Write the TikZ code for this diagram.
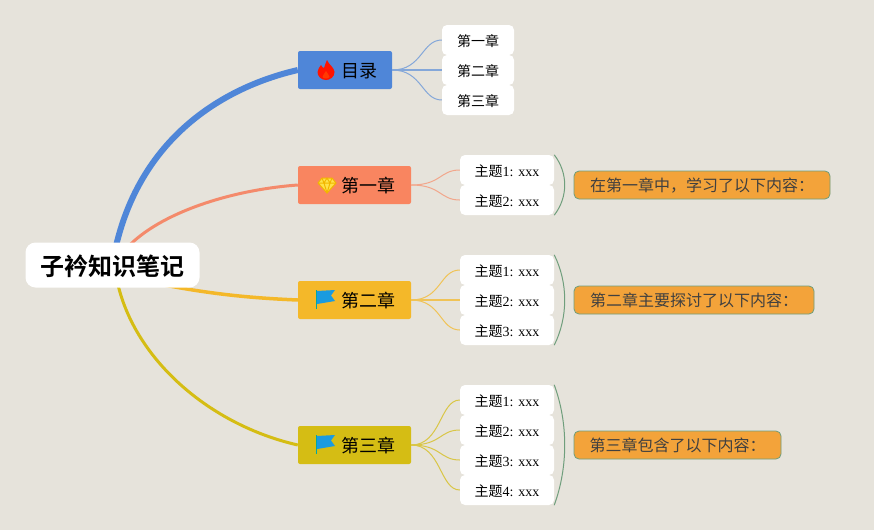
\documentclass[tikz,border=0pt]{standalone}
\usepackage{fontspec}
\setmainfont{Liberation Serif}
\newfontfamily\cjk{Noto Sans CJK SC}
\newfontfamily\cjkb{Noto Sans CJK SC Bold}
\pgfdeclarelayer{branch}
\pgfsetlayers{branch,main}
\definecolor{bgc}{HTML}{E6E3DB}
\definecolor{cblue}{HTML}{4F86D8}
\definecolor{csal}{HTML}{F98560}
\definecolor{csalb}{HTML}{F48A6B}
\definecolor{cgold}{HTML}{F4B829}
\definecolor{cyel}{HTML}{D5BD14}
\definecolor{sumo}{HTML}{F3A33A}
\definecolor{sumb}{HTML}{6F9E7C}
\definecolor{flagb}{HTML}{1A9BE0}
\definecolor{gemf}{HTML}{FFE14A}
\definecolor{geml}{HTML}{F2B600}
\tikzset{
  rootbox/.style={fill=white,rounded corners=10pt,minimum width=174pt,minimum height=45pt,inner sep=0pt,text height=22pt,text depth=2pt,font=\cjkb\fontsize{24}{24}\selectfont},
  chapbox/.style={rounded corners=2pt,minimum height=38pt,inner sep=0pt,text height=17pt,text depth=1.3pt,font=\cjk\fontsize{18}{18}\selectfont,text=black},
  leafbox/.style={fill=white,rounded corners=5pt,minimum height=30pt,inner sep=0pt,text height=13.5pt,text depth=1.5pt,font=\fontsize{14}{14}\selectfont,text=black},
  sumbox/.style={fill=sumo,draw=sumb,line width=.8pt,rounded corners=5pt,minimum height=28pt,inner sep=0pt,text height=14.5pt,text depth=1.5pt,font=\cjk\fontsize{16}{16}\selectfont,text=black!75},
  link/.style={line width=1pt},
  brace/.style={draw=sumb,line width=1pt},
  flameicon/.pic={
    \fill[red!85!orange] (1,-10) .. controls (3,-5) and (8,-3) .. (8.5,2) .. controls (8.5,7) and (4,10) .. (0,10) .. controls (-5,10) and (-8.5,6) .. (-8.5,2) .. controls (-8.5,-1) and (-6,-3) .. (-5,-5) .. controls (-4,-3) and (-3,-2) .. (-2,-2) .. controls (-1,-5) and (0,-8) .. (1,-10) -- cycle;
    \fill[orange!45!red] (0,1) .. controls (1,4) and (4,5) .. (3.5,7) .. controls (3,9) and (-3,9) .. (-3.5,7) .. controls (-4,5) and (-1,4) .. (0,1) -- cycle;
  },
  gemicon/.pic={
    \fill[gemf,draw=geml,line width=1pt,line join=round] (-5,-7) -- (5,-7) -- (9,-2) -- (0,8) -- (-9,-2) -- cycle;
    \draw[geml,line width=1pt,line join=round] (-9,-2) -- (9,-2) (-3,-2) -- (0,8) -- (3,-2) (-5,-7) -- (-3,-2) -- (0,-7) -- (3,-2) -- (5,-7);
  },
  flagicon/.pic={
    \fill[teal!70!cyan] (-9.7,-9) rectangle (-8.7,10);
    \fill[flagb] (-9,-8) -- (9,-9) -- (5,-3.5) -- (9,2) -- (-9,5) -- cycle;
  }
}
\begin{document}
\begin{tikzpicture}[x=1pt,y=-1pt]
\useasboundingbox (0,0) rectangle (874,530);
\begin{pgfonlayer}{branch}
\fill[bgc] (0,0) rectangle (874,530);
\end{pgfonlayer}

\node[rootbox] (root) at (112.5,265) {子衿知识笔记};
\node[chapbox,minimum width=94pt,fill=cblue] (c0) at (345,70) {\hspace*{23pt}目录\hspace*{-5pt}};
\node[chapbox,minimum width=113pt,fill=csal] (c1) at (354.5,185) {\hspace*{23pt}第一章\hspace*{-5pt}};
\node[chapbox,minimum width=113pt,fill=cgold] (c2) at (354.5,300) {\hspace*{23pt}第二章\hspace*{-5pt}};
\node[chapbox,minimum width=113pt,fill=cyel] (c3) at (354.5,445) {\hspace*{23pt}第三章\hspace*{-5pt}};

\begin{pgfonlayer}{branch}
\draw[cblue,line width=6pt] ([xshift=3pt,yshift=-6pt]root.north) .. controls (140,140) and (220,88) .. (c0.west);
\draw[csalb,line width=3pt] ([xshift=15pt,yshift=-5pt]root.north) .. controls (160,213) and (230,190) .. (c1.west);
\draw[cgold,line width=3.5pt] ([xshift=45pt,yshift=4pt]root.south) .. controls (210,294) and (250,298) .. (c2.west);
\draw[cyel,line width=3pt] ([xshift=5pt,yshift=5pt]root.south) .. controls (135,360) and (210,425) .. (c3.west);
\end{pgfonlayer}

\pic at (326,70) {flameicon};
\pic at (327,185) {gemicon};
\pic at (326,299) {flagicon};
\pic at (326,444) {flagicon};

% leaves
\node[leafbox,minimum width=72pt] (a1) at (478,40) {\cjk 第一章};
\node[leafbox,minimum width=72pt] (a2) at (478,70) {\cjk 第二章};
\node[leafbox,minimum width=72pt] (a3) at (478,100) {\cjk 第三章};

\node[leafbox,minimum width=94pt] (b1) at (507,170) {{\cjk 主题}1: xxx};
\node[leafbox,minimum width=94pt] (b2) at (507,200) {{\cjk 主题}2: xxx};

\node[leafbox,minimum width=94pt] (d1) at (507,270) {{\cjk 主题}1: xxx};
\node[leafbox,minimum width=94pt] (d2) at (507,300) {{\cjk 主题}2: xxx};
\node[leafbox,minimum width=94pt] (d3) at (507,330) {{\cjk 主题}3: xxx};

\node[leafbox,minimum width=94pt] (e1) at (507,400) {{\cjk 主题}1: xxx};
\node[leafbox,minimum width=94pt] (e2) at (507,430) {{\cjk 主题}2: xxx};
\node[leafbox,minimum width=94pt] (e3) at (507,460) {{\cjk 主题}3: xxx};
\node[leafbox,minimum width=94pt] (e4) at (507,490) {{\cjk 主题}4: xxx};

% thin links
\begin{scope}[link,draw=cblue!65!bgc]
\draw (c0.east) .. controls +(30,0) and +(-20,0) .. (a1.west);
\draw[line width=1.4pt] (c0.east) -- (a2.west);
\draw (c0.east) .. controls +(30,0) and +(-20,0) .. (a3.west);
\end{scope}
\begin{scope}[link,draw=csal!65!bgc]
\draw (c1.east) .. controls +(30,0) and +(-20,0) .. (b1.west);
\draw (c1.east) .. controls +(30,0) and +(-20,0) .. (b2.west);
\end{scope}
\begin{scope}[link,draw=cgold!75!bgc]
\draw (c2.east) .. controls +(30,0) and +(-20,0) .. (d1.west);
\draw[line width=1.3pt] (c2.east) -- (d2.west);
\draw (c2.east) .. controls +(30,0) and +(-20,0) .. (d3.west);
\end{scope}
\begin{scope}[link,draw=cyel!75!bgc]
\draw (c3.east) .. controls +(30,0) and +(-20,0) .. (e1.west);
\draw (c3.east) .. controls +(30,0) and +(-20,0) .. (e2.west);
\draw (c3.east) .. controls +(30,0) and +(-20,0) .. (e3.west);
\draw (c3.east) .. controls +(30,0) and +(-20,0) .. (e4.west);
\end{scope}

% summary boxes
\node[sumbox,minimum width=256pt] (s1) at (702,185) {在第一章中，学习了以下内容：};
\node[sumbox,minimum width=240pt] (s2) at (694,300) {第二章主要探讨了以下内容：};
\node[sumbox,minimum width=207pt] (s3) at (677.5,445) {第三章包含了以下内容：};

% brackets
\draw[brace] (b1.north east) .. controls +(14,18) and +(14,-18) .. (b2.south east);
\draw[brace] (d1.north east) .. controls +(14,28) and +(14,-28) .. (d3.south east);
\draw[brace] (e1.north east) .. controls +(14,38) and +(14,-38) .. (e4.south east);
\end{tikzpicture}
\end{document}
